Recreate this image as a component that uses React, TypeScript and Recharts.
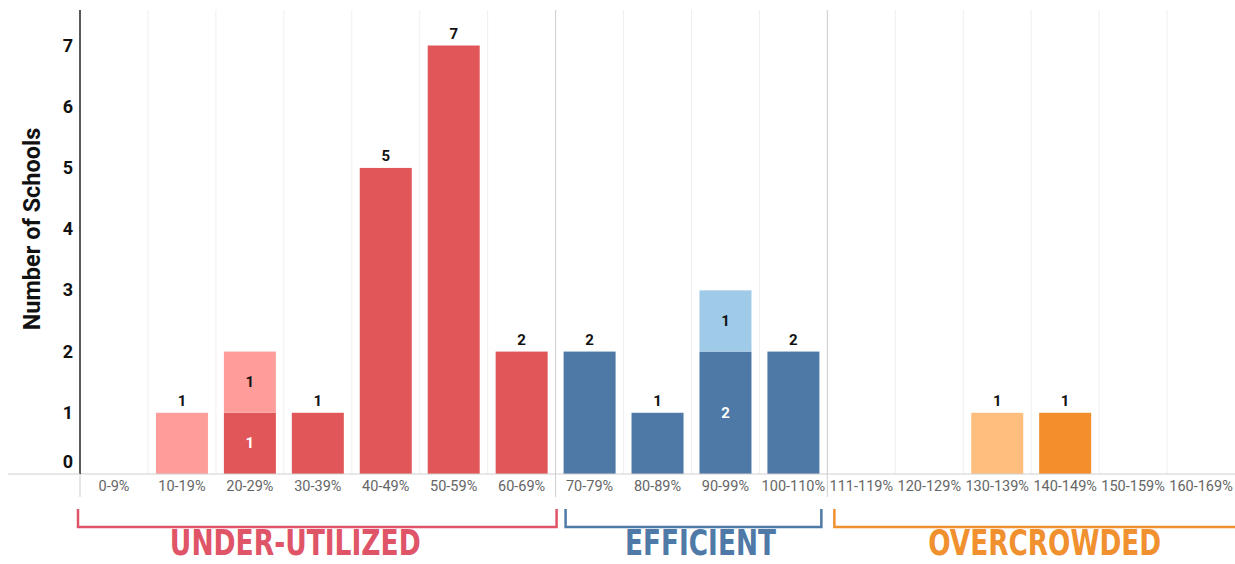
import React, { useLayoutEffect, useRef, useState } from "react";
import {
  BarChart, Bar, XAxis, YAxis, CartesianGrid, ReferenceLine, Label,
} from "recharts";

// utilization ranges on the x axis
const categories = [
  "0-9%", "10-19%", "20-29%", "30-39%", "40-49%", "50-59%", "60-69%",
  "70-79%", "80-89%", "90-99%", "100-110%",
  "111-119%", "120-129%", "130-139%", "140-149%", "150-159%", "160-169%",
];

// number of schools per range (dark = main shade, light = lighter shade stacked on top)
const underDark = [0, 0, 1, 1, 5, 7, 2, 0, 0, 0, 0, 0, 0, 0, 0, 0, 0];
const underLight = [0, 1, 1, 0, 0, 0, 0, 0, 0, 0, 0, 0, 0, 0, 0, 0, 0];
const effDark = [0, 0, 0, 0, 0, 0, 0, 2, 1, 2, 2, 0, 0, 0, 0, 0, 0];
const effLight = [0, 0, 0, 0, 0, 0, 0, 0, 0, 1, 0, 0, 0, 0, 0, 0, 0];
const overDark = [0, 0, 0, 0, 0, 0, 0, 0, 0, 0, 0, 0, 0, 0, 1, 0, 0];
const overLight = [0, 0, 0, 0, 0, 0, 0, 0, 0, 0, 0, 0, 0, 1, 0, 0, 0];

const yTicks = [0, 1, 2, 3, 4, 5, 6, 7];

const groupNames = ["UNDER-UTILIZED", "EFFICIENT", "OVERCROWDED"];
const groupFirst = [0, 7, 11];
const groupLast = [6, 10, 16];

// ---- layout / styles ----
const W = 1235;
const H = 564;
const LEFT = 80;
const TOP = 10;
const X_AXIS_H = 90;
const BAND = (W - LEFT) / categories.length;
const FONT = "Roboto, 'Noto Sans', sans-serif";
const NARROW = "'Liberation Sans Narrow', 'DejaVu Sans Condensed', sans-serif";

const groupStyle = [
  { color: "#E05468", l: -2, r: 1, dx: -22, len: 251 },
  { color: "#4F7AA8", l: 10, r: -6, dx: 7, len: 151 },
  { color: "#F0902F", l: 7, r: 20, dx: 0, len: 233 },
];

const data = categories.map((range, i) => ({
  range,
  underDark: underDark[i],
  effDark: effDark[i],
  overDark: overDark[i],
  underLight: underLight[i],
  effLight: effLight[i],
  overLight: overLight[i],
}));

// bar shape that also writes its count: inside the segment when the
// category is split in two shades, above the bar otherwise
const labelledBar = (values: number[], partner: number[], dark: boolean) => (p: any) => {
  const i = categories.indexOf(p.payload?.range);
  const v = values[i];
  if (!v) return <g />;
  const x = Number(p.x);
  const y = Number(p.y);
  const w = Number(p.width);
  const h = Number(p.height);
  const inside = partner[i] > 0;
  return (
    <g>
      <rect x={x} y={y} width={w} height={h} fill={p.fill} />
      <text
        x={x + w / 2}
        y={inside ? y + h / 2 + 5 : y - 7}
        textAnchor="middle"
        fontFamily={FONT}
        fontWeight="bold"
        fontSize={15}
        fill={inside && dark ? "#fff" : "#111"}
      >
        {v}
      </text>
    </g>
  );
};

// text squeezed horizontally to a given width (condensed poster lettering)
const FitText = ({ x, y, width, children, ...rest }: any) => {
  const ref = useRef<SVGTextElement>(null);
  const [sx, setSx] = useState(1);
  useLayoutEffect(() => {
    const w = ref.current ? ref.current.getComputedTextLength() : 0;
    if (w > 0) setSx(width / w);
  }, [width]);
  return (
    <text ref={ref} x={0} y={0} transform={`translate(${x},${y}) scale(${sx},1)`}
      textAnchor="middle" {...rest}>
      {children}
    </text>
  );
};

const CountTick = (props: any) => {
  const { x, y, payload } = props;
  const zero = payload.value === 0;
  return (
    <text x={x - 7} y={zero ? y - 6 : y + 6} textAnchor="end" fontFamily={FONT}
      fontWeight="bold" fontSize={18} fill="#111">
      {payload.value}
    </text>
  );
};

const RangeTick = (props: any) => {
  const { x, y, index, payload } = props;
  const left = x - BAND / 2;
  const gi = groupFirst.indexOf(index);
  let group = null;
  if (gi >= 0) {
    const st = groupStyle[gi];
    const span = (groupLast[gi] - groupFirst[gi] + 1) * BAND;
    const x0 = left + st.l;
    const x1 = left + span + st.r;
    group = (
      <g>
        <line x1={left} x2={left} y1={y} y2={y + 23} stroke="#cfcfcf" />
        <path d={`M${x0},${y + 35} V${y + 53} H${x1} V${y + 35}`} stroke={st.color}
          strokeWidth={2.5} fill="none" />
        <FitText x={(x0 + x1) / 2 + st.dx} y={y + 81} width={st.len} fontFamily={NARROW}
          fontWeight="bold" fontSize={36} fill={st.color}>
          {groupNames[gi]}
        </FitText>
      </g>
    );
  }
  return (
    <g>
      {index === 0 && <line x1={8} x2={left} y1={y} y2={y} stroke="#cfcfcf" />}
      {group}
      <text x={x} y={y + 17} textAnchor="middle" fontFamily={FONT} fontSize={14.5} fill="#666">
        {payload.value}
      </text>
    </g>
  );
};

export default function App() {
  return (
    <div style={{ position: "absolute", left: 0, top: 0, width: W, height: H, background: "#fff" }}>
      <BarChart width={W} height={H} data={data} margin={{ top: TOP, right: 0, left: 0, bottom: 0 }}
        barSize={52}>
        <CartesianGrid
          horizontal={false}
          stroke="#efefef"
          verticalCoordinatesGenerator={({ offset }: any) =>
            categories.slice(1).map((_, k) => offset.left + ((k + 1) * offset.width) / categories.length)
          }
        />
        <ReferenceLine x="70-79%" position="start" stroke="#cfcfcf" />
        <ReferenceLine x="111-119%" position="start" stroke="#cfcfcf" />
        <XAxis dataKey="range" interval={0} height={X_AXIS_H} tickLine={false} tickSize={0}
          tickMargin={0} axisLine={{ stroke: "#cfcfcf" }} tick={<RangeTick />} />
        <YAxis width={LEFT} domain={[0, 7.58]} ticks={yTicks} allowDataOverflow tickLine={false}
          tickSize={0} tickMargin={0} axisLine={{ stroke: "#222", strokeWidth: 1.5 }}
          tick={<CountTick />}>
          <Label
            content={() => (
              <text x={32} y={229} transform="rotate(-90 32 229)" textAnchor="middle"
                dominantBaseline="central" fontFamily={FONT} fontWeight="bold" fontSize={23.5}
                fill="#111">
                Number of Schools
              </text>
            )}
          />
        </YAxis>
        <Bar dataKey="underDark" stackId="a" fill="#E15759" isAnimationActive={false}
          shape={labelledBar(underDark, underLight, true)} />
        <Bar dataKey="effDark" stackId="a" fill="#4E79A7" isAnimationActive={false}
          shape={labelledBar(effDark, effLight, true)} />
        <Bar dataKey="overDark" stackId="a" fill="#F28E2B" isAnimationActive={false}
          shape={labelledBar(overDark, overLight, true)} />
        <Bar dataKey="underLight" stackId="a" fill="#FF9D9A" isAnimationActive={false}
          shape={labelledBar(underLight, underDark, false)} />
        <Bar dataKey="effLight" stackId="a" fill="#A0CBE8" isAnimationActive={false}
          shape={labelledBar(effLight, effDark, false)} />
        <Bar dataKey="overLight" stackId="a" fill="#FFBE7D" isAnimationActive={false}
          shape={labelledBar(overLight, overDark, false)} />
      </BarChart>
    </div>
  );
}
